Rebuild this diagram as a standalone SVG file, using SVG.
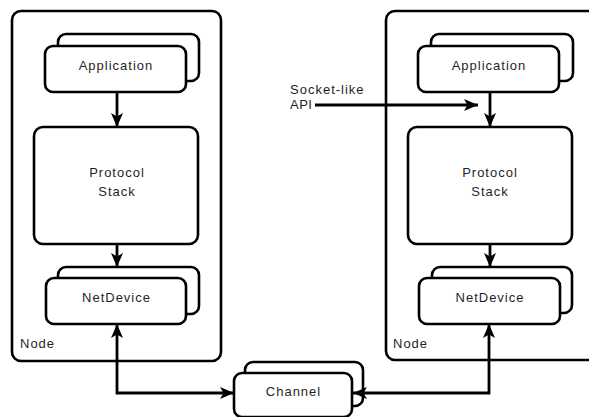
<svg xmlns="http://www.w3.org/2000/svg" width="589" height="417" viewBox="0 0 589 417">
<style>
.box{fill:#fff;stroke:#000;stroke-width:2.6}
.t{font-family:"Liberation Sans",Arial,sans-serif;font-size:13px;fill:#1f1f2a;letter-spacing:1px}
.c{text-anchor:middle}
.ln{fill:none;stroke:#000;stroke-width:2.8}
</style>
<defs>
<marker id="ah" markerUnits="userSpaceOnUse" markerWidth="16" markerHeight="14" refX="14" refY="6" orient="auto-start-reverse" viewBox="0 0 16 14">
<path d="M0,0 L14,6 L0,12 L3.5,6 z" fill="#000"/>
</marker>
</defs>
<rect width="589" height="417" fill="#fff"/>
<g id="node-left">
<rect class="box" x="12" y="11" width="209" height="350" rx="9"/>
<text class="t" x="20" y="348">Node</text>
</g>
<g id="node-right">
<rect class="box" x="386" y="11" width="220" height="349" rx="9"/>
<text class="t" x="393" y="348">Node</text>
</g>
<g id="app-left">
<rect class="box" x="58" y="34" width="141" height="47" rx="8"/>
<rect class="box" x="45" y="46" width="141" height="46" rx="8"/>
<text class="t c" x="116" y="70">Application</text>
</g>
<g id="stack-left">
<rect class="box" x="34" y="127" width="164" height="117" rx="9"/>
<text class="t c" x="117" y="177">Protocol</text>
<text class="t c" x="117" y="196">Stack</text>
</g>
<g id="netdev-left">
<rect class="box" x="58" y="267" width="141" height="47" rx="8"/>
<rect class="box" x="46" y="278" width="140" height="46" rx="8"/>
<text class="t c" x="116.5" y="302">NetDevice</text>
</g>
<g id="app-right">
<rect class="box" x="431" y="34" width="142" height="47" rx="8"/>
<rect class="box" x="418" y="46" width="141" height="46" rx="8"/>
<text class="t c" x="489" y="70">Application</text>
</g>
<g id="stack-right">
<rect class="box" x="408" y="127" width="164" height="117" rx="9"/>
<text class="t c" x="490" y="177">Protocol</text>
<text class="t c" x="490" y="196">Stack</text>
</g>
<g id="netdev-right">
<rect class="box" x="432" y="267" width="140" height="46" rx="8"/>
<rect class="box" x="419" y="278" width="141" height="46" rx="8"/>
<text class="t c" x="490" y="302">NetDevice</text>
</g>
<g id="channel">
<rect class="box" x="245" y="362" width="118" height="44" rx="8"/>
<rect class="box" x="234" y="373" width="118" height="44" rx="8"/>
<text class="t c" x="293.5" y="396">Channel</text>
</g>
<g id="api-label">
<text class="t" x="290" y="94">Socket-like</text>
<text class="t" x="290" y="109" style="letter-spacing:0.5px">API</text>
</g>
<g id="connectors">
<path class="ln" d="M315,105 L478,105" marker-end="url(#ah)"/>
<path class="ln" d="M117,92 L117,127" marker-end="url(#ah)"/>
<path class="ln" d="M117,244 L117,267" marker-end="url(#ah)"/>
<path class="ln" d="M490,92 L490,127" marker-end="url(#ah)"/>
<path class="ln" d="M490,244 L490,267" marker-end="url(#ah)"/>
<path class="ln" d="M117,324 L117,393 L234,393" marker-start="url(#ah)" marker-end="url(#ah)"/>
<path class="ln" d="M353,393 L489,393 L489,324" marker-start="url(#ah)" marker-end="url(#ah)"/>
</g>
</svg>
